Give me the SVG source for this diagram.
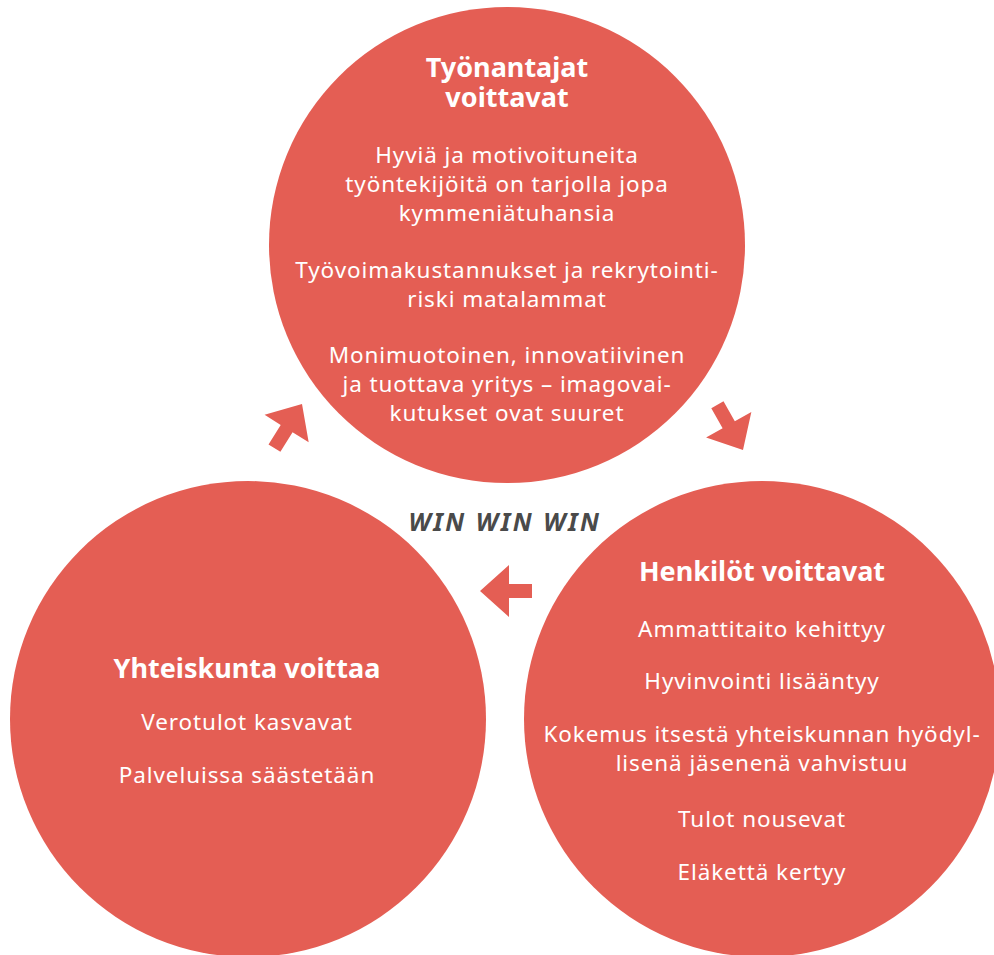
<svg xmlns="http://www.w3.org/2000/svg" width="994" height="955" viewBox="0 0 994 955">
<defs>
<style>
.c{fill:#E45E54}
.a{fill:#E45E54}
.t{font-family:"Noto Sans","Open Sans",sans-serif;font-size:22.5px;letter-spacing:0.9px;fill:#fff;text-anchor:middle}
.h{font-family:"Noto Sans","Open Sans",sans-serif;font-size:27px;font-weight:bold;fill:#fff;text-anchor:middle}
.w{font-family:"Noto Sans","Open Sans",sans-serif;font-size:25px;font-weight:bold;font-style:italic;fill:#4a4a4a;text-anchor:middle;letter-spacing:2.5px}
</style>
<polygon id="arr" points="0,0 29,-26 29,-7 52,-7 52,7 29,7 29,26"/>
</defs>
<rect width="994" height="955" fill="#fff"/>
<g id="employers">
<circle class="c" cx="507" cy="245" r="238"/>
<text class="h" x="507" y="77">Työnantajat</text>
<text class="h" x="507" y="107">voittavat</text>
<text class="t" x="507" y="163">Hyviä ja motivoituneita</text>
<text class="t" x="507" y="192">työntekijöitä on tarjolla jopa</text>
<text class="t" x="507" y="221">kymmeniätuhansia</text>
<text class="t" x="507" y="278">Työvoimakustannukset ja rekrytointi-</text>
<text class="t" x="507" y="307">riski matalammat</text>
<text class="t" x="507" y="363">Monimuotoinen, innovatiivinen</text>
<text class="t" x="507" y="392">ja tuottava yritys – imagovai-</text>
<text class="t" x="507" y="421">kutukset ovat suuret</text>
</g>
<g id="individuals">
<circle class="c" cx="762" cy="719" r="238"/>
<text class="h" x="762" y="581">Henkilöt voittavat</text>
<text class="t" x="762" y="637">Ammattitaito kehittyy</text>
<text class="t" x="762" y="689">Hyvinvointi lisääntyy</text>
<text class="t" x="762" y="742">Kokemus itsestä yhteiskunnan hyödyl-</text>
<text class="t" x="762" y="771">lisenä jäsenenä vahvistuu</text>
<text class="t" x="762" y="827">Tulot nousevat</text>
<text class="t" x="762" y="880">Eläkettä kertyy</text>
</g>
<g id="society">
<circle class="c" cx="248" cy="719" r="238"/>
<text class="h" x="247" y="678">Yhteiskunta voittaa</text>
<text class="t" x="247" y="730">Verotulot kasvavat</text>
<text class="t" x="247" y="783">Palveluissa säästetään</text>
</g>
<g id="center-label">
<text class="w" x="505" y="531">WIN WIN WIN</text>
</g>
<g id="connectors">
<use href="#arr" class="a" transform="translate(743,450) rotate(-119.5)"/>
<use href="#arr" class="a" transform="translate(480,591)"/>
<use href="#arr" class="a" transform="translate(302,404) rotate(122)"/>
</g>
</svg>
